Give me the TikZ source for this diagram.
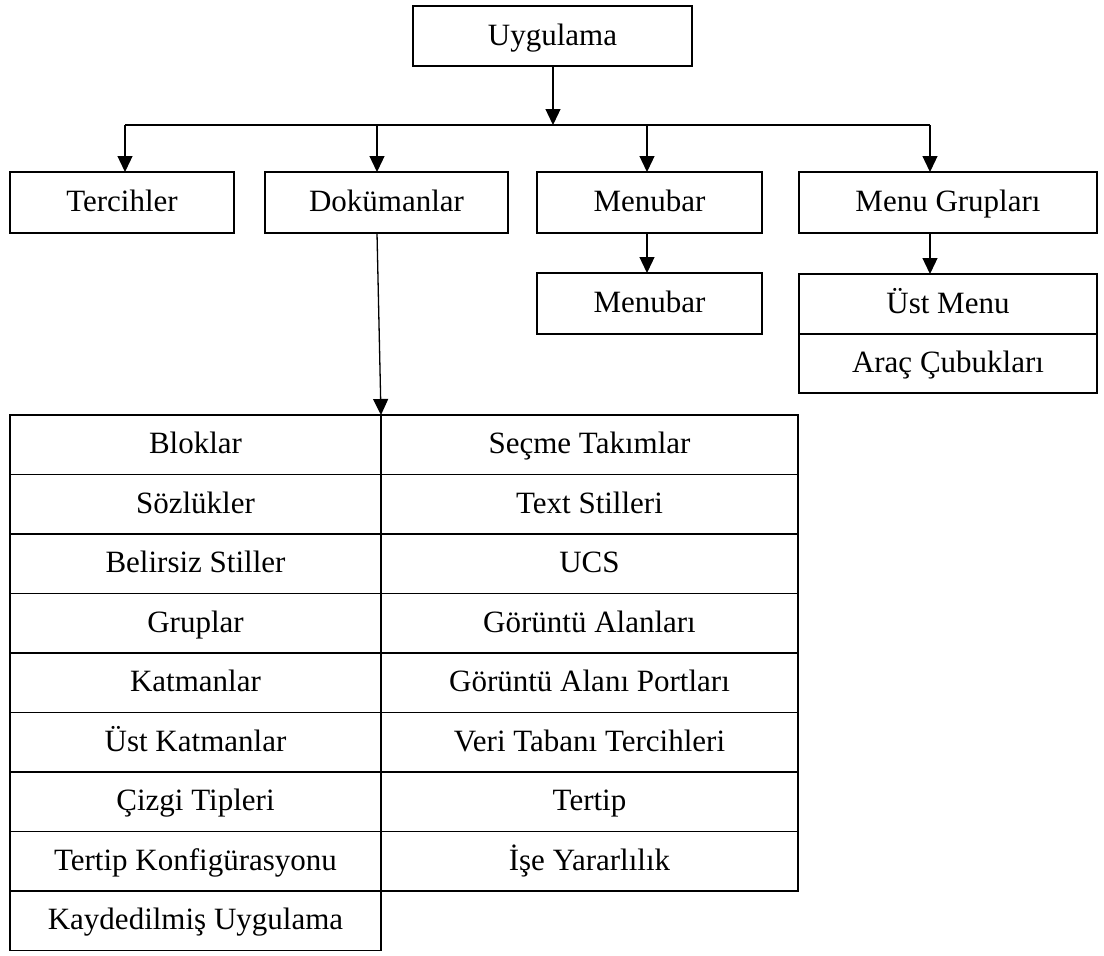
\documentclass[tikz,border=0pt]{standalone}
\usepackage{fontspec}
\setmainfont{Liberation Serif}
\usepackage{tikz}
\usetikzlibrary{positioning,arrows.meta}

\begin{document}
\begin{tikzpicture}[x=1pt, y=-1pt,
    box/.style={rectangle, draw, line width=1.6pt, outer sep=0pt, inner sep=0pt, minimum height=61pt, text height=22pt, text depth=4pt, font=\fontsize{31}{37}\selectfont},
    cell/.style={box, minimum height=59.5pt},
    arrow/.style={-{Triangle[width=15pt,length=16pt]}, line width=1.3pt}]

    \useasboundingbox (0,0) rectangle (1104,956);

    \node[box, minimum width=279pt, minimum height=60pt, anchor=north west] (app) at (413,6) {Uygulama};

    \node[box, minimum width=224pt, anchor=north west] (pref) at (10,172) {Tercihler};
    \node[box, minimum width=243pt, right=31pt of pref] (docs) {Dokümanlar};
    \node[box, minimum width=225pt, right=29pt of docs] (menubar) {Menubar};
    \node[box, minimum width=298pt, right=37pt of menubar] (groups) {Menu Grupları};

    \node[box, minimum width=225pt, below=40pt of menubar] (menubarsub) {Menubar};
    \node[box, minimum width=298pt, minimum height=60pt, below=41pt of groups] (topmenu) {Üst Menu};
    \node[box, minimum width=298pt, minimum height=59pt, below=0pt of topmenu] (toolbars) {Araç Çubukları};

    % left column of the table
    \node[cell, minimum width=371pt, anchor=north west] (blocks) at (10,415) {Bloklar};
    \node[cell, minimum width=371pt, below=0pt of blocks] (dicts) {Sözlükler};
    \node[cell, minimum width=371pt, below=0pt of dicts] (vstyles) {Belirsiz Stiller};
    \node[cell, minimum width=371pt, below=0pt of vstyles] (grps) {Gruplar};
    \node[cell, minimum width=371pt, below=0pt of grps] (layers) {Katmanlar};
    \node[cell, minimum width=371pt, below=0pt of layers] (toplayers) {Üst Katmanlar};
    \node[cell, minimum width=371pt, below=0pt of toplayers] (ltypes) {Çizgi Tipleri};
    \node[cell, minimum width=371pt, below=0pt of ltypes] (layconf) {Tertip Konfigürasyonu};
    \node[cell, minimum width=371pt, below=0pt of layconf] (saved) {Kaydedilmiş Uygulama};

    % right column of the table
    \node[cell, minimum width=417pt, right=0pt of blocks] (selsets) {Seçme Takımlar};
    \node[cell, minimum width=417pt, below=0pt of selsets] (tstyles) {Text Stilleri};
    \node[cell, minimum width=417pt, below=0pt of tstyles] (ucs) {UCS};
    \node[cell, minimum width=417pt, below=0pt of ucs] (views) {Görüntü Alanları};
    \node[cell, minimum width=417pt, below=0pt of views] (vports) {Görüntü Alanı Portları};
    \node[cell, minimum width=417pt, below=0pt of vports] (dbprefs) {Veri Tabanı Tercihleri};
    \node[cell, minimum width=417pt, below=0pt of dbprefs] (layout) {Tertip};
    \node[cell, minimum width=417pt, below=0pt of layout] (utility) {İşe Yararlılık};

    % bus line
    \coordinate (busP) at (125,125);
    \coordinate (busD) at (377,125);
    \coordinate (busA) at (553,125);
    \coordinate (busM) at (647,125);
    \coordinate (busG) at (930,125);

    \draw[arrow] (app.south -| busA) -- (busA);
    \draw[line width=2pt] (busP) -- (busG);
    \draw[arrow] (busP) -- (pref.north -| busP);
    \draw[arrow] (busD) -- (docs.north -| busD);
    \draw[arrow] (busM) -- (menubar.north -| busM);
    \draw[arrow] (busG) -- (groups.north -| busG);

    \draw[arrow] (menubar.south -| busM) -- (menubarsub.north -| busM);
    \draw[arrow] (groups.south -| busG) -- (topmenu.north -| busG);
    \draw[arrow] (docs.south -| busD) -- (blocks.north east);
\end{tikzpicture}
\end{document}
